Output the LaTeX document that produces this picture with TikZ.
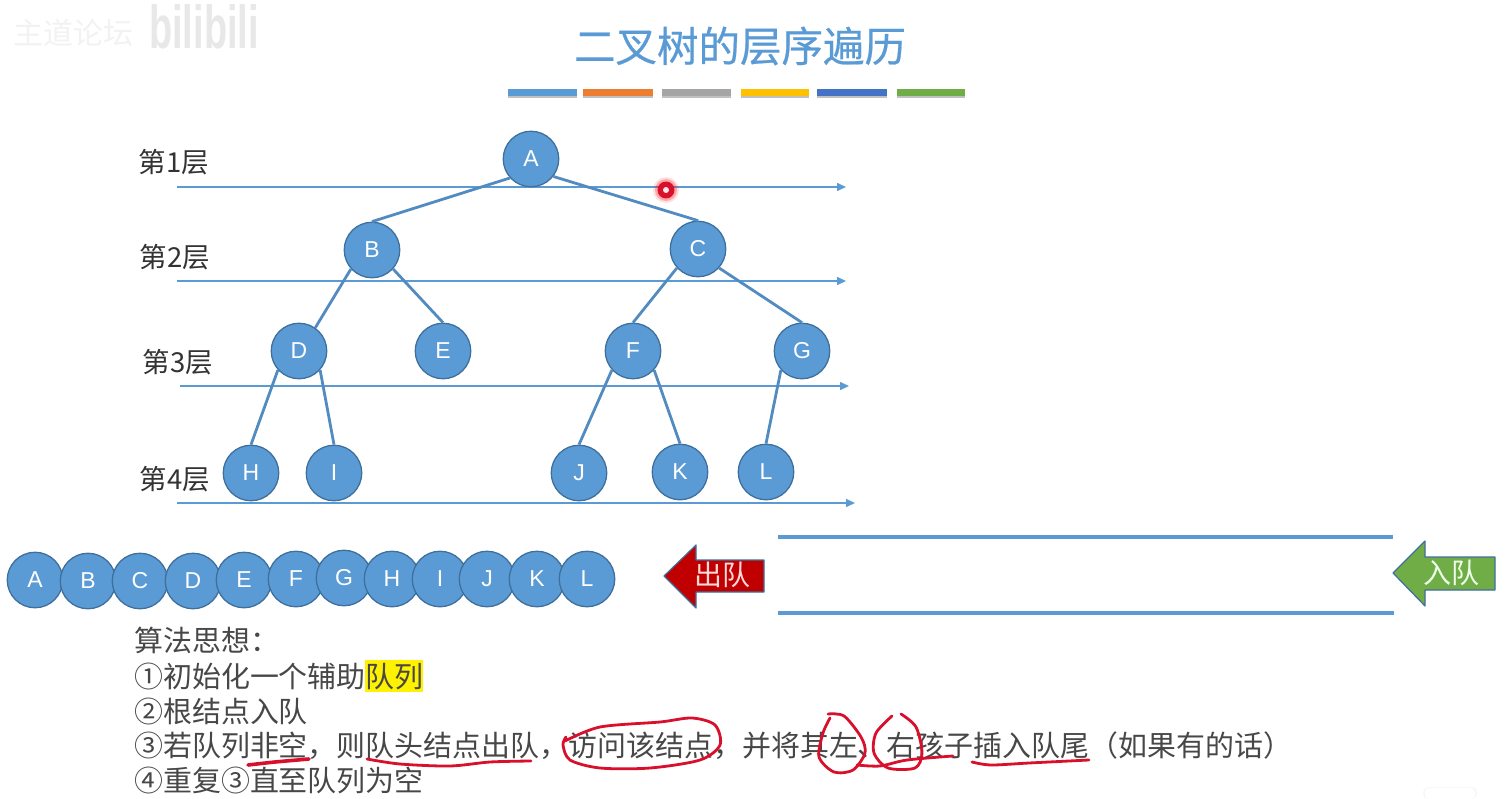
\documentclass[tikz,border=0pt]{standalone}
\usepackage{fontspec}
\usetikzlibrary{arrows.meta}
\setmainfont{Liberation Sans}
\newfontfamily\cjk{Noto Sans CJK SC}
\newfontfamily\cjktitle[FakeBold=0.5]{Noto Sans CJK SC}
\definecolor{nodeblue}{HTML}{5B9BD5}
\definecolor{nodeedge}{HTML}{3F6F9C}
\definecolor{inkred}{HTML}{D8102C}
\definecolor{darkred}{HTML}{C00000}
\definecolor{leafgreen}{HTML}{70AD47}
\tikzset{
  tree/.style={circle,draw=nodeedge,line width=1.3pt,fill=nodeblue,text=white,minimum size=55.5pt,inner sep=0pt,font=\fontsize{23}{25}\selectfont},
  branch/.style={draw=nodeblue!90!black,line width=2.8pt},
  levelline/.style={draw=nodeblue,line width=1.5pt,-{Triangle[length=9pt,width=8pt]}},
  levellabel/.style={text=black!80,inner sep=0pt,font=\cjk\fontsize{27.5}{30}\selectfont},
  algo/.style={anchor=base west,inner sep=0pt,text=black!72,font=\cjk\fontsize{28.95}{32}\selectfont},
  queueline/.style={draw=nodeblue,line width=4pt},
  ink/.style={draw=inkred,line width=2.8pt,line cap=round,line join=round},
  banner/.style={inner sep=0pt,font=\cjk\fontsize{28}{30}\selectfont},
}
\begin{document}
\begin{tikzpicture}[x=1pt,y=-1pt]
\useasboundingbox (0,0) rectangle (1511,799);
% watermark
\node[inner sep=0pt,text=black!5,font=\cjk\fontsize{30}{32}\selectfont] (wm) at (73,33) {主道论坛};
\node[inner sep=0pt,text=black!9,font=\bfseries\fontsize{38}{40}\selectfont,yscale=1.6,transform shape] (bili) at (204,27) {bilibili};
% title
\node[inner sep=0pt,text=nodeblue,font=\cjktitle\fontsize{41.5}{44}\selectfont] (title) at (740,46) {二叉树的层序遍历};
% colour bars
\foreach \xa/\xb/\c in {508/577/5B9BD5,583/653/ED7D31,662/731/A5A5A5,741/809/FFC000,817/887/4472C4,897/965/70AD47}{
  \definecolor{barc}{HTML}{\c}
  \fill[black!45,opacity=.55] (\xa,91) rectangle (\xb,98);
  \fill[barc] (\xa,89) rectangle (\xb,96);
}
% level lines
\coordinate (s1) at (177,187); \coordinate (e1) at (846,187);
\coordinate (s2) at (177,281); \coordinate (e2) at (846,281);
\coordinate (s3) at (180,386); \coordinate (e3) at (849,386);
\coordinate (s4) at (177,503); \coordinate (e4) at (855,503);
\draw[levelline] (s1) -- (e1);
\draw[levelline] (s2) -- (e2);
\draw[levelline] (s3) -- (e3);
\draw[levelline] (s4) -- (e4);
\node[levellabel] (L1) at (174,162) {第1层};
\node[levellabel] (L2) at (175,257) {第2层};
\node[levellabel] (L3) at (178,362) {第3层};
\node[levellabel] (L4) at (175,479) {第4层};
% tree nodes
\node[tree] (A) at (531,159) {A};
\node[tree] (B) at (372,250) {B};
\node[tree] (C) at (698,249) {C};
\node[tree] (D) at (299,351) {D};
\node[tree] (E) at (443,351) {E};
\node[tree] (F) at (633,351) {F};
\node[tree] (G) at (802,351) {G};
\node[tree] (H) at (251,473) {H};
\node[tree] (I) at (334,473) {I};
\node[tree] (J) at (579,473) {J};
\node[tree] (K) at (680,472) {K};
\node[tree] (L) at (766,472) {L};
% tree edges
\draw[branch] (A.222) -- (B.north);
\draw[branch] (A.322) -- (C.north);
\draw[branch] (B.222) -- (D.55);
\draw[branch] (B.318) -- (E.north);
\draw[branch] (C.222) -- (F.north);
\draw[branch] (C.318) -- (G.north);
\draw[branch] (D.222) -- (H.north);
\draw[branch] (D.318) -- (I.north);
\draw[branch] (F.222) -- (J.north);
\draw[branch] (F.318) -- (K.north);
\draw[branch] (G.222) -- (L.north);
% traversal row
\foreach \n/\x/\y in {A/35/580,B/88/581,C/140/581,D/193/581,E/244/580,F/296/579,G/344/578,H/392/579,I/440/579,J/487/579,K/537/579,L/587/579}{
  \node[tree] (q\n) at (\x,\y) {\n};
}
% queue
\coordinate (qa) at (778,537); \coordinate (qb) at (1393,537);
\coordinate (qc) at (778,613); \coordinate (qd) at (1394,613);
\draw[queueline] (qa) -- (qb);
\draw[queueline] (qc) -- (qd);
% banners
\draw[draw=nodeedge,line width=1.2pt,fill=darkred,line join=round] (664,576) -- (696,545) -- (696,560) -- (764,560) -- (764,592) -- (696,592) -- (696,608) -- cycle;
\node[banner,text=red!15] (out) at (722,575) {出队};
\draw[draw=nodeedge,line width=1.2pt,fill=leafgreen,line join=round] (1393,573) -- (1425,541) -- (1425,557) -- (1495,557) -- (1495,590) -- (1425,590) -- (1425,606) -- cycle;
\node[banner,text=green!8] (in) at (1451,573) {入队};
% algorithm text
\fill[yellow] (365,660) rectangle (423,692);
\node[algo] (t0) at (134,651) {算法思想：};
\node[algo] (t1) at (134,687) {①初始化一个辅助队列};
\node[algo] (t2) at (134,722) {②根结点入队};
\node[algo] (t3) at (134,756) {③若队列非空，则队头结点出队，访问该结点，并将其左、右孩子插入队尾（如果有的话）};
\node[algo] (t4) at (134,791) {④重复③直至队列为空};
% pen annotations
\draw[ink,line width=3.6pt] plot[smooth] coordinates {(248,765) (275,762) (309,759)};
\draw[ink] plot[smooth] coordinates {(367,759) (400,764) (450,766) (490,762) (531,761)};
\draw[ink] plot[smooth] coordinates {(565,741) (600,727) (660,722) (692,718) (715,725) (720,745) (700,760) (650,768) (600,768) (570,760) (563,745) (566,737)};
\draw[ink] plot[smooth] coordinates {(828,714) (844,716) (861,737) (865,753) (853,770) (834,772) (819,757) (823,733) (830,718)};
\draw[ink] plot[smooth] coordinates {(892,716) (876,733) (874,753) (888,768) (915,768) (922,753) (916,727) (901,714)};
\draw[ink] plot[smooth] coordinates {(857,765) (880,766) (907,760) (953,756)};
\draw[ink] plot[smooth] coordinates {(972,762) (991,765) (1029,763) (1089,760)};
% pointer
\fill[red,opacity=.12] (666,190) circle (13);
\fill[red,opacity=.25] (666,190) circle (11);
\fill[inkred] (666,190) circle (8.5);
\fill[white!90!red] (666,190) circle (3);
% corner icon
\fill[black!3,rounded corners=5pt] (1423,787) rectangle (1477,799);
\fill[white,rounded corners=4pt] (1425,788) rectangle (1475,799);
\end{tikzpicture}
\end{document}
